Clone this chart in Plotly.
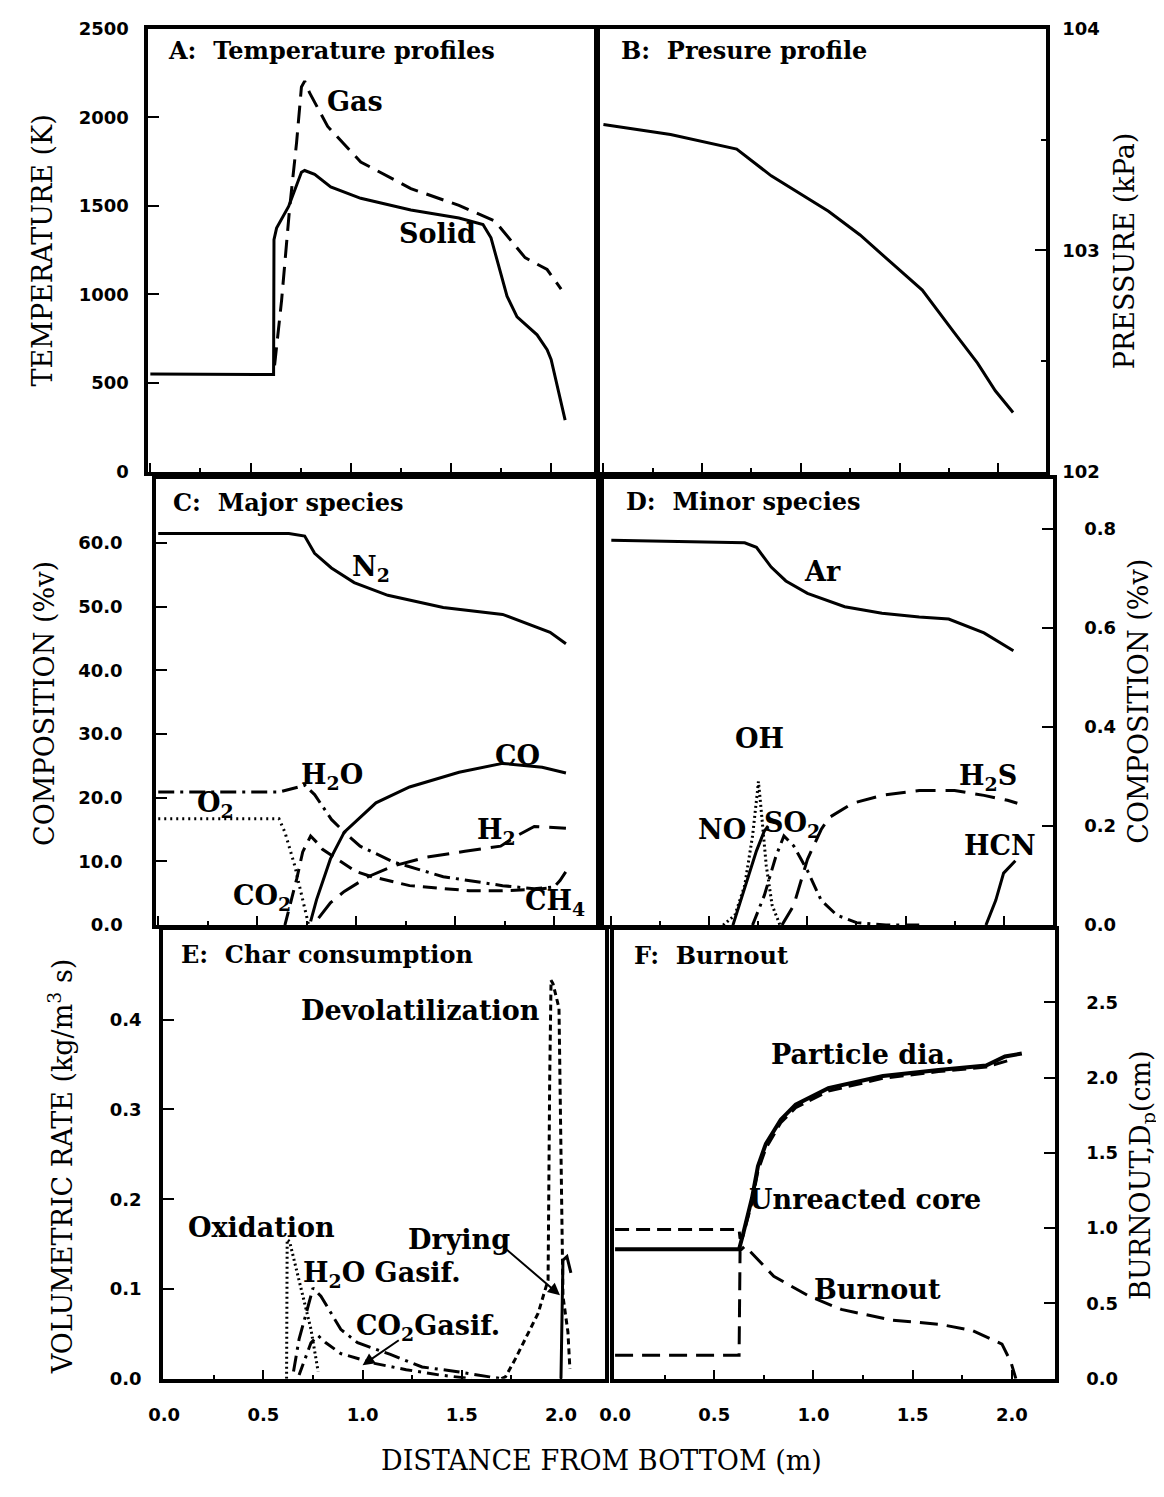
import plotly.graph_objects as go

W, H = 1164, 1497

# ---------------- DATA ----------------
# A: Temperature profiles (K)
solid_x = [0.0, 0.615, 0.617, 0.63, 0.69, 0.754, 0.77, 0.82, 0.90, 1.05, 1.30, 1.54, 1.66, 1.70, 1.78, 1.83, 1.93, 1.98, 2.00, 2.04, 2.07]
solid_T = [551, 548, 1309, 1375, 1497, 1690, 1700, 1678, 1608, 1543, 1477, 1432, 1395, 1320, 990, 874, 772, 688, 633, 447, 290]
gas_x = [0.62, 0.655, 0.695, 0.73, 0.754, 0.77, 0.795, 0.885, 1.05, 1.30, 1.54, 1.69, 1.72, 1.87, 1.93, 1.98, 2.05]
gas_T = [600, 967, 1487, 1860, 2172, 2205, 2138, 1949, 1748, 1598, 1503, 1431, 1414, 1208, 1169, 1141, 1030]

# B: Pressure profile (kPa)
p_x = [0.0, 0.34, 0.675, 0.85, 1.14, 1.30, 1.475, 1.615, 1.775, 1.895, 1.985, 2.075]
p_kPa = [103.568, 103.523, 103.457, 103.336, 103.176, 103.069, 102.93, 102.82, 102.63, 102.49, 102.365, 102.267]

# C: Major species (%v)
n2_x = [0.0, 0.66, 0.74, 0.79, 0.875, 0.99, 1.16, 1.44, 1.74, 1.88, 1.98, 2.06]
n2 = [61.5, 61.5, 61.1, 58.4, 56.1, 53.8, 51.8, 49.9, 48.8, 47.1, 46.0, 44.2]
h2o_x = [0.0, 0.61, 0.71, 0.74, 0.79, 0.875, 0.94, 1.02, 1.19, 1.44, 1.74, 1.9, 2.0, 2.03, 2.06]
h2o = [20.9, 20.9, 21.7, 22.0, 20.5, 16.6, 14.6, 12.4, 9.9, 7.6, 6.2, 5.7, 6.0, 7.0, 8.4]
o2_x = [0.0, 0.61, 0.64, 0.69, 0.72, 0.75, 0.76]
o2 = [16.7, 16.7, 14.6, 9.3, 5.3, 1.6, 0.0]
co2_x = [0.64, 0.67, 0.70, 0.73, 0.77, 0.81, 0.83, 1.0, 1.08, 1.27, 1.57, 1.74, 1.9, 2.0]
co2 = [0.0, 3.7, 7.3, 11.5, 14.0, 12.7, 11.9, 8.4, 7.6, 6.2, 5.4, 5.4, 5.6, 5.9]
co_x = [0.77, 0.80, 0.87, 0.94, 1.1, 1.27, 1.52, 1.74, 1.94, 2.06]
co = [0.6, 4.0, 10.4, 14.6, 19.2, 21.7, 24.0, 25.4, 24.8, 23.9]
h2_x = [0.81, 0.87, 0.94, 1.06, 1.19, 1.36, 1.55, 1.73, 1.81, 1.9, 2.06]
h2 = [1.1, 3.5, 5.3, 7.6, 9.3, 10.7, 11.6, 12.4, 14.0, 15.5, 15.2]

# D: Minor species (%v)
ar_x = [0.0, 0.68, 0.74, 0.815, 0.89, 1.0, 1.19, 1.38, 1.57, 1.72, 1.9, 2.05]
ar = [0.777, 0.772, 0.763, 0.723, 0.695, 0.67, 0.643, 0.63, 0.622, 0.618, 0.59, 0.554]
h2s_x = [0.87, 0.93, 1.0, 1.07, 1.11, 1.23, 1.38, 1.57, 1.75, 1.9, 2.02, 2.07]
h2s = [0.0, 0.04, 0.133, 0.193, 0.217, 0.246, 0.262, 0.272, 0.272, 0.262, 0.252, 0.246]
so2_x = [0.72, 0.78, 0.84, 0.88, 0.93, 1.0, 1.07, 1.15, 1.25, 1.4, 1.6]
so2 = [0.0, 0.06, 0.14, 0.18, 0.16, 0.11, 0.05, 0.02, 0.005, 0.0, 0.0]
oh_x = [0.57, 0.63, 0.68, 0.72, 0.745, 0.75, 0.76, 0.79, 0.82, 0.86]
oh = [0.0, 0.02, 0.08, 0.18, 0.27, 0.29, 0.25, 0.12, 0.04, 0.0]
no_x = [0.62, 0.66, 0.70, 0.74, 0.78, 0.80]
no = [0.0, 0.05, 0.10, 0.15, 0.19, 0.20]
hcn_x = [1.91, 1.96, 2.0, 2.06]
hcn = [0.0, 0.05, 0.105, 0.13]

# E: Char consumption (kg/m3 s)
oxid_x = [0.617, 0.62, 0.632, 0.657, 0.706, 0.74, 0.776]
oxid = [0.0, 0.155, 0.153, 0.13, 0.088, 0.055, 0.008]
h2og_x = [0.652, 0.68, 0.716, 0.75, 0.79, 0.84, 0.89, 0.975, 1.14, 1.30, 1.47, 1.64, 1.70]
h2og = [0.008, 0.044, 0.073, 0.101, 0.092, 0.073, 0.055, 0.04, 0.027, 0.013, 0.008, 0.002, 0.0]
co2g_x = [0.68, 0.71, 0.74, 0.775, 0.815, 0.89, 1.06, 1.22, 1.39, 1.55]
co2g = [0.004, 0.022, 0.04, 0.048, 0.04, 0.028, 0.017, 0.01, 0.004, 0.0]
devol_x = [1.70, 1.72, 1.77, 1.82, 1.885, 1.92, 1.935, 1.943, 1.95, 1.96, 1.99, 2.01, 2.035, 2.045]
devol = [0.0, 0.002, 0.022, 0.044, 0.073, 0.099, 0.11, 0.33, 0.444, 0.44, 0.413, 0.092, 0.052, 0.011]
dry_x = [2.0, 2.005, 2.01, 2.03, 2.05]
dry = [0.0, 0.07, 0.132, 0.136, 0.118]

# F: Burnout / particle diameter
pd_x = [0.0, 0.625, 0.645, 0.69, 0.72, 0.76, 0.835, 0.91, 1.075, 1.35, 1.63, 1.87, 1.965, 2.05]
pd = [0.86, 0.86, 0.96, 1.2, 1.41, 1.56, 1.72, 1.82, 1.93, 2.01, 2.05, 2.08, 2.14, 2.16]
core_x = [0.0, 0.625, 0.63, 0.645, 0.69, 0.72, 0.76, 0.835, 0.91, 1.075, 1.35, 1.63, 1.87, 2.0]
core = [0.99, 0.99, 0.93, 0.95, 1.17, 1.38, 1.53, 1.70, 1.80, 1.91, 1.995, 2.04, 2.07, 2.12]
burn_x = [0.0, 0.625, 0.63, 0.655, 0.8, 0.975, 1.14, 1.39, 1.64, 1.8, 1.95, 1.995, 2.02]
burn = [0.156, 0.156, 0.85, 0.88, 0.68, 0.55, 0.46, 0.39, 0.36, 0.32, 0.23, 0.11, 0.0]

x_ticks = [0, 0.5, 1.0, 1.5, 2.0]
x_ticktext = ["0.0", "0.5", "1.0", "1.5", "2.0"]
x_minor = [0.25, 0.75, 1.25, 1.75, 2.25]

# ---------------- STYLE / LAYOUT ----------------
BLK = "black"
SERIF = "DejaVu Serif"
TICKF = dict(family="DejaVu Sans", size=18, color=BLK, weight="bold")
LABF = dict(family=SERIF, size=27, color=BLK, weight="bold")
AXF = dict(family=SERIF, size=27, color=BLK)
TITF = dict(family=SERIF, size=24, color=BLK, weight="bold")

OFF = 8  # page body margin of the html document


def dx(l, r):
    return [(l - OFF) / W, (r - OFF) / W]


def dy(t, b):
    return [1 - (b - OFF) / H, 1 - (t - OFF) / H]


# suffix, xdomain px, ydomain px, xrange, yrange, yside, yticks, yticktext, ystandoff, bottom labels, yminor
panels = [
    ("", (135, 586), (18, 467), [-0.0099, 2.2118], [0, 2500], "left",
     [0, 500, 1000, 1500, 2000, 2500], ["0", "500", "1000", "1500", "2000", "2500"], 12, False, None),
    ("2", (593, 1044), (18, 467), [-0.015, 2.24], [102, 104], "right",
     [102, 103, 104], ["102", "103", "104"], 9, False, [102.5, 103.5]),
    ("3", (143, 588), (475, 927), [-0.01, 2.2095], [0, 70], "left",
     [0, 10, 20, 30, 40, 50, 60], ["0.0", "10.0", "20.0", "30.0", "40.0", "50.0", "60.0"], 26, False, None),
    ("4", (597, 1051), (475, 927), [-0.0352, 2.2496], [0, 0.9], "right",
     [0, 0.2, 0.4, 0.6, 0.8], ["0.0", "0.2", "0.4", "0.6", "0.8"], 24, False, None),
    ("5", (150, 598), (932, 1387), [-0.005, 2.2239], [0, 0.5], "left",
     [0, 0.1, 0.2, 0.3, 0.4], ["0.0", "0.1", "0.2", "0.3", "0.4"], 14, True, None),
    ("6", (607, 1053), (932, 1387), [-0.004, 2.2149], [0, 2.98], "right",
     [0, 0.5, 1.0, 1.5, 2.0, 2.5], ["0.0", "0.5", "1.0", "1.5", "2.0", "2.5"], 24, True, None),
]

layout = dict(
    width=W, height=H, margin=dict(l=0, r=0, t=0, b=0),
    paper_bgcolor="white", plot_bgcolor="white", showlegend=False,
)

for (s, xd, yd, xr, yr, side, ytv, ytt, ystand, xlab, yminor) in panels:
    xa = dict(
        domain=dx(*xd), range=xr, anchor="y" + s, showline=True, linecolor=BLK, linewidth=4,
        mirror=True, ticks="inside", ticklen=9, tickwidth=2, tickcolor=BLK,
        tickvals=x_ticks, ticktext=x_ticktext, showticklabels=xlab, tickfont=TICKF,
        ticklabelstandoff=17, ticklabeloverflow="allow",
        minor=dict(tickvals=x_minor, ticks="inside", ticklen=4, tickwidth=2, tickcolor=BLK, showgrid=False),
        showgrid=False, zeroline=False, fixedrange=True,
    )
    ya = dict(
        domain=dy(*yd), range=yr, anchor="x" + s, side=side, showline=True, linecolor=BLK,
        linewidth=4, mirror=True, ticks="inside", ticklen=11, tickwidth=2, tickcolor=BLK,
        tickvals=ytv, ticktext=ytt, tickfont=TICKF, ticklabelstandoff=ystand,
        ticklabeloverflow="allow",
        showgrid=False, zeroline=False, fixedrange=True,
    )
    if yminor:
        ya["minor"] = dict(tickvals=yminor, ticks="inside", ticklen=5, tickwidth=2, tickcolor=BLK, showgrid=False)
    layout["xaxis" + s] = xa
    layout["yaxis" + s] = ya

fig = go.Figure(layout=layout)


def line(x, y, ax, dash="solid", width=3):
    fig.add_trace(go.Scatter(
        x=x, y=y, xaxis="x" + ax, yaxis="y" + ax, mode="lines",
        line=dict(color=BLK, width=width, dash=dash), hoverinfo="skip"))


# A
line(solid_x, solid_T, "")
line(gas_x, gas_T, "", dash="18px,9px")
# B
line(p_x, p_kPa, "2")
# C
line(n2_x, n2, "3")
line(h2o_x, h2o, "3", dash="16px,6px,3px,6px")
line(o2_x, o2, "3", dash="2px,4px")
line(co2_x, co2, "3", dash="14px,8px")
line(co_x, co, "3")
line(h2_x, h2, "3", dash="22px,10px")
# D
line(ar_x, ar, "4")
line(h2s_x, h2s, "4", dash="20px,10px")
line(so2_x, so2, "4", dash="14px,6px,3px,6px")
line(oh_x, oh, "4", dash="2px,3px")
line(no_x, no, "4")
line(hcn_x, hcn, "4")
# E
line(oxid_x, oxid, "5", dash="2px,3px")
line(h2og_x, h2og, "5", dash="16px,6px,3px,6px")
line(co2g_x, co2g, "5", dash="12px,6px,3px,6px")
line(devol_x, devol, "5", dash="6px,4px")
line(dry_x, dry, "5")
# F
line(pd_x, pd, "6", width=4)
line(core_x, core, "6", dash="14px,7px")
line(burn_x, burn, "6", dash="18px,9px")

ann = []


def lab(text, x, y, ax, xanchor="left", font=LABF):
    ann.append(dict(text=text, x=x, y=y, xref="x" + ax, yref="y" + ax, showarrow=False,
                    xanchor=xanchor, yanchor="middle", font=font))


# panel titles
lab("A:  Temperature profiles", 0.079, 2377, "", font=TITF)
lab("B:  Presure profile", 0.08, 103.90, "2", font=TITF)
lab("C:  Major species", 0.065, 66.4, "3", font=TITF)
lab("D:  Minor species", 0.065, 0.856, "4", font=TITF)
lab("E:  Char consumption", 0.075, 0.4725, "5", font=TITF)
lab("F:  Burnout", 0.085, 2.81, "6", font=TITF)

# curve labels
lab("Gas", 0.87, 2090, "")
lab("Solid", 1.23, 1342, "")
lab("N<sub>2</sub>", 0.97, 56.0, "3")
lab("H<sub>2</sub>O", 0.71, 23.4, "3")
lab("O<sub>2</sub>", 0.185, 18.9, "3")
lab("CO<sub>2</sub>", 0.37, 4.3, "3")
lab("CO", 1.69, 26.7, "3")
lab("H<sub>2</sub>", 1.6, 14.7, "3")
lab("CH<sub>4</sub>", 1.845, 3.6, "3")
lab("Ar", 0.97, 0.715, "4")
lab("OH", 0.62, 0.377, "4")
lab("H<sub>2</sub>S", 1.76, 0.298, "4")
lab("NO", 0.43, 0.193, "4")
lab("SO<sub>2</sub>", 0.77, 0.203, "4")
lab("HCN", 1.79, 0.161, "4")
lab("Devolatilization", 1.905, 0.41, "5", xanchor="right")
lab("Oxidation", 0.11, 0.169, "5")
lab("H<sub>2</sub>O Gasif.", 0.69, 0.116, "5")
lab("CO<sub>2</sub>Gasif.", 0.955, 0.057, "5")
lab("Drying", 1.22, 0.155, "5")
lab("Particle dia.", 0.775, 2.15, "6")
lab("Unreacted core", 0.665, 1.19, "6")
lab("Burnout", 0.99, 0.59, "6")

# pointer arrows in E
for (hx, hy, tx, ty) in [(1.995, 0.093, 1.72, 0.145), (1.0, 0.015, 1.19, 0.044)]:
    ann.append(dict(x=hx, y=hy, ax=tx, ay=ty, xref="x5", yref="y5", axref="x5", ayref="y5",
                    text="", showarrow=True, arrowhead=2, arrowsize=1.2, arrowwidth=2, arrowcolor=BLK))


def ptitle(text, px, py, angle=-90):
    ann.append(dict(text=text, x=(px - OFF) / W, y=1 - (py - OFF) / H, xref="paper", yref="paper",
                    showarrow=False, xanchor="center", yanchor="middle", textangle=angle, font=AXF))


ptitle("TEMPERATURE (K)", 28, 243)
ptitle("COMPOSITION (%v)", 30, 702)
ptitle("VOLUMETRIC RATE (kg/m<sup>3</sup> s)", 46, 1172)
ptitle("PRESSURE (kPa)", 1124, 243)
ptitle("COMPOSITION (%v)", 1138, 700)
ptitle("BURNOUT,D<sub>p</sub>(cm)", 1142, 1180)
ptitle("DISTANCE FROM BOTTOM (m)", 594, 1470, angle=0)

fig.update_layout(annotations=ann)
fig.write_html("out.html")
